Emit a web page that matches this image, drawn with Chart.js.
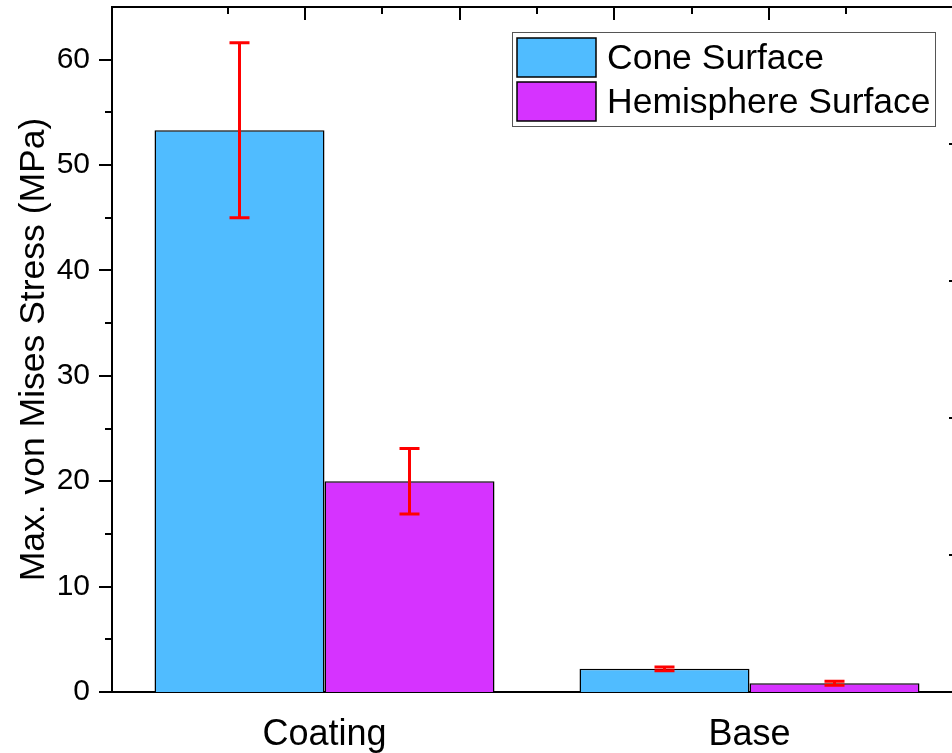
<!DOCTYPE html>
<html>
<head>
<meta charset="utf-8">
<script src="https://cdn.jsdelivr.net/npm/chart.js@4.4.0/dist/chart.umd.min.js"></script>
<style>
body { margin: 0; background: #fff; overflow: hidden; }
#wrap { width: 962px; height: 753px; position: relative; }
</style>
</head>
<body>
<div id="wrap"><canvas id="chartCanvas"></canvas></div>
<script>
// values
var categories = ['Coating', 'Base'];
var seriesNames = ['Cone Surface', 'Hemisphere Surface'];
var coneValues = [53.3, 2.2];
var coneErrors = [8.3, 0.18];
var hemiValues = [20.0, 0.83];
var hemiErrors = [3.1, 0.18];

var yTicks = [0, 10, 20, 30, 40, 50, 60];
var yMinorTicks = [5, 15, 25, 35, 45, 55];
var yMax = 65;
var topTicks = [2, 4, 6, 8];
var topMinorTicks = [1, 3, 5, 7, 9];
var rightTicks = [1, 2, 3, 4];

var fontFamily = "'Liberation Sans', Arial, sans-serif";

// tick marks on the frame (Origin style)
var frameTicks = {
	id: 'frameTicks',
	afterDraw: function(chart){
		var c = chart.ctx;
		var a = chart.chartArea;
		var y = chart.scales.y, x2 = chart.scales.x2, y2 = chart.scales.y2;
		c.save();
		c.strokeStyle = '#000';
		c.lineWidth = 2;
		c.beginPath();
		yTicks.forEach(function(v){
			var p = Math.round(y.getPixelForValue(v));
			c.moveTo(a.left - 13, p); c.lineTo(a.left, p);
		});
		yMinorTicks.forEach(function(v){
			var p = Math.round(y.getPixelForValue(v));
			c.moveTo(a.left - 7, p); c.lineTo(a.left, p);
		});
		topTicks.forEach(function(v){
			var p = Math.round(x2.getPixelForValue(v));
			c.moveTo(p, a.top); c.lineTo(p, a.top + 13);
		});
		topMinorTicks.forEach(function(v){
			var p = Math.round(x2.getPixelForValue(v));
			c.moveTo(p, a.top); c.lineTo(p, a.top + 7);
		});
		rightTicks.forEach(function(v){
			var p = Math.round(y2.getPixelForValue(v));
			c.moveTo(a.right - 13, p); c.lineTo(a.right, p);
		});
		c.stroke();
		c.restore();
	}
};

var errorBars = {
	id: 'errorBars',
	afterDatasetsDraw: function(chart){
		var c = chart.ctx;
		var y = chart.scales.y;
		c.save();
		c.strokeStyle = '#ff0000';
		c.lineWidth = 3;
		chart.data.datasets.forEach(function(ds, i){
			var meta = chart.getDatasetMeta(i);
			meta.data.forEach(function(bar, j){
				var v = ds.data[j], e = ds.errors[j];
				var top = y.getPixelForValue(v + e);
				var bot = y.getPixelForValue(v - e);
				c.beginPath();
				c.moveTo(bar.x, top); c.lineTo(bar.x, bot);
				c.moveTo(bar.x - 10, top); c.lineTo(bar.x + 10, top);
				c.moveTo(bar.x - 10, bot); c.lineTo(bar.x + 10, bot);
				c.stroke();
			});
		});
		c.restore();
	}
};

var boxLegend = {
	id: 'boxLegend',
	afterDraw: function(chart){
		var c = chart.ctx;
		c.save();
		c.fillStyle = '#fff';
		c.fillRect(512, 32, 423, 94);
		c.strokeStyle = '#555';
		c.lineWidth = 1;
		c.strokeRect(512.5, 32.5, 423, 94);
		c.font = '35.5px ' + fontFamily;
		c.textBaseline = 'middle';
		chart.data.datasets.forEach(function(ds, i){
			var top = 38 + i * 44;
			c.fillStyle = ds.backgroundColor;
			c.fillRect(517, top, 79, 39);
			c.strokeStyle = '#000';
			c.lineWidth = 1.5;
			c.strokeRect(517, top, 79, 39);
			c.fillStyle = '#000';
			c.fillText(ds.label, 607, top + 21);
		});
		c.restore();
	}
};

var ctx = document.getElementById('chartCanvas');

var barGraph = new Chart(ctx, {
	type: 'bar',
	data: {
		labels: categories,
		datasets: [
			{
				label: seriesNames[0],
				data: coneValues,
				errors: coneErrors,
				backgroundColor: '#50bcff',
				borderColor: '#000',
				borderWidth: 1.5,
				xAxisID: 'x',
				yAxisID: 'y'
			},
			{
				label: seriesNames[1],
				data: hemiValues,
				errors: hemiErrors,
				backgroundColor: '#d633ff',
				borderColor: '#000',
				borderWidth: 1.5,
				xAxisID: 'x',
				yAxisID: 'y'
			}
		]
	},
	options: {
		responsive: true,
		maintainAspectRatio: false,
		animation: false,
		layout: { padding: { top: 7, left: 0, right: 0, bottom: 0 } },
		datasets: { bar: { categoryPercentage: 0.8, barPercentage: 1.0 } },
		plugins: { legend: { display: false }, tooltip: { enabled: false } },
		scales: {
			x: {
				position: 'bottom',
				offset: true,
				grid: { display: false, drawTicks: false },
				border: { display: true, color: '#000', width: 2 },
				ticks: { color: '#000', font: { family: fontFamily, size: 36 }, padding: 21 },
				afterFit: function(s){ s.height = 61; s.paddingLeft = 0; s.paddingRight = 0; }
			},
			x2: {
				type: 'linear',
				position: 'top',
				min: 0, max: 10,
				grid: { display: false, drawTicks: false },
				border: { display: true, color: '#000', width: 2 },
				ticks: { display: false },
				afterFit: function(s){ s.height = 0; s.paddingLeft = 0; s.paddingRight = 0; }
			},
			y: {
				position: 'left',
				min: 0, max: yMax,
				grid: { display: false, drawTicks: false },
				border: { display: true, color: '#000', width: 2 },
				afterBuildTicks: function(s){ s.ticks = yTicks.map(function(v){ return { value: v }; }); },
				ticks: { color: '#000', font: { family: fontFamily, size: 30 }, padding: 22 },
				title: {
					display: true,
					text: 'Max. von Mises Stress (MPa)',
					color: '#000',
					font: { family: fontFamily, size: 35.5 },
					padding: { top: 13, bottom: 0 }
				},
				afterFit: function(s){ s.width = 112; s.paddingTop = 0; s.paddingBottom = 0; }
			},
			y2: {
				type: 'linear',
				position: 'right',
				min: 0, max: 5,
				grid: { display: false, drawTicks: false },
				border: { display: true, color: '#000', width: 2 },
				ticks: { display: false },
				afterFit: function(s){ s.width = 0; s.paddingTop = 0; s.paddingBottom = 0; }
			}
		}
	},
	plugins: [frameTicks, errorBars, boxLegend]
});
</script>
</body>
</html>
